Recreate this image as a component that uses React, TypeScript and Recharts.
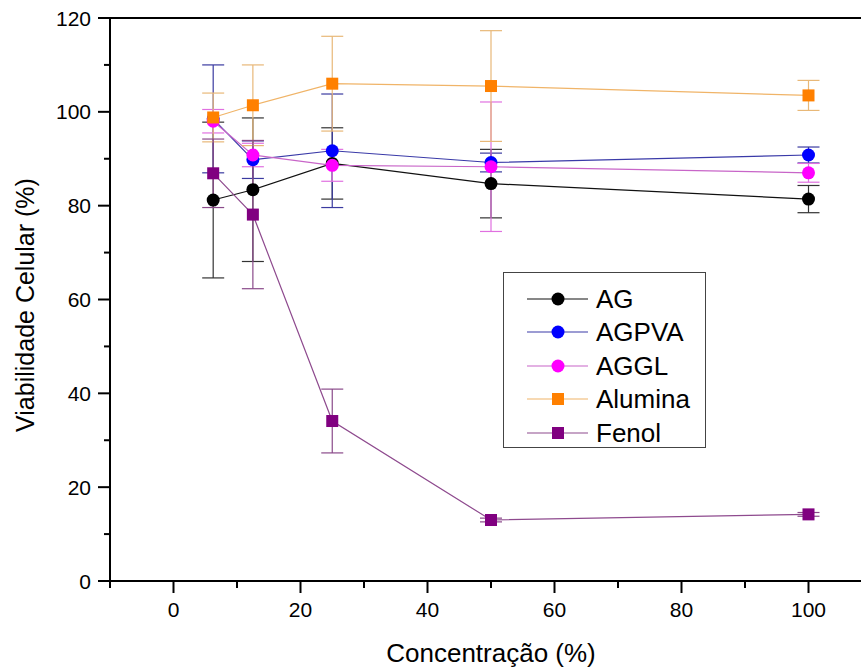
import {
  ErrorBar,
  Legend,
  Line,
  LineChart,
  ReferenceLine,
  XAxis,
  YAxis,
} from "recharts";

const FONT = '"Liberation Sans", Arial, sans-serif';

const conc = [6.25, 12.5, 25, 50, 100];

const ag = [81.2, 83.4, 89.0, 84.7, 81.4];
const agErr = [16.6, 15.3, 7.6, 7.3, 2.9];
const agpva = [98.5, 89.8, 91.7, 89.2, 90.8];
const agpvaErr = [11.5, 4.0, 12.1, 2.0, 1.7];
const aggl = [98.0, 90.8, 88.6, 88.3, 87.0];
const agglErr = [2.5, 2.5, 3.4, 13.8, 2.0];
const alumina = [98.8, 101.4, 106.0, 105.5, 103.5];
const aluminaErr = [5.2, 8.6, 10.1, 11.8, 3.2];
const fenol = [86.9, 78.1, 34.1, 13.0, 14.2];
const fenolErr = [7.3, 15.8, 6.8, 0.4, 0.4];

const xTicks = [-10, 0, 10, 20, 30, 40, 50, 60, 70, 80, 90, 100, 110];
const yTicks = [0, 10, 20, 30, 40, 50, 60, 70, 80, 90, 100, 110, 120];

const series = [
  { key: "AG", name: "AG", values: ag, errs: agErr, fill: "#000000", line: "#111111", err: "#333333", shape: "circle" },
  { key: "AGPVA", name: "AGPVA", values: agpva, errs: agpvaErr, fill: "#0000ff", line: "#3a3aa8", err: "#3a3aa0", shape: "circle" },
  { key: "AGGL", name: "AGGL", values: aggl, errs: agglErr, fill: "#ff00ff", line: "#c865c8", err: "#e070e0", shape: "circle" },
  { key: "Alumina", name: "Alumina", values: alumina, errs: aluminaErr, fill: "#ff8000", line: "#f0b468", err: "#e8b878", shape: "square" },
  { key: "Fenol", name: "Fenol", values: fenol, errs: fenolErr, fill: "#800080", line: "#8e4a8e", err: "#8a4a8a", shape: "square" },
];

const data = conc.map((c, i) => {
  const row: Record<string, number> = { conc: c };
  series.forEach((s) => {
    row[s.key] = s.values[i];
    row[s.key + "_err"] = s.errs[i];
  });
  return row;
});

const YTick = (props: any) => {
  const { x, y, payload } = props;
  const major = payload.value % 20 === 0;
  return (
    <g>
      <line x1={x} x2={x - (major ? 12 : 6)} y1={y} y2={y} stroke="#000" strokeWidth={2} />
      {major && (
        <text x={x - 19} y={y + 7.5} textAnchor="end" fontSize={21} fill="#000" fontFamily={FONT}>
          {payload.value}
        </text>
      )}
    </g>
  );
};

const XTick = (props: any) => {
  const { x, y, payload } = props;
  const major = payload.value % 20 === 0;
  return (
    <g>
      <line x1={x} x2={x} y1={y} y2={y + (major ? 12 : 7)} stroke="#000" strokeWidth={2} />
      {major && (
        <text x={x} y={y + 36} textAnchor="middle" fontSize={21} fill="#000" fontFamily={FONT}>
          {payload.value}
        </text>
      )}
    </g>
  );
};

const makeDot = (shape: string, fill: string) => (props: any) => {
  const { cx, cy, index } = props;
  if (cx == null || cy == null) return <g key={index} />;
  if (shape === "square") {
    return <rect key={index} x={cx - 6} y={cy - 6} width={12} height={12} fill={fill} />;
  }
  return <circle key={index} cx={cx} cy={cy} r={6.5} fill={fill} />;
};

function LegendBox() {
  return (
    <div
      style={{
        width: 203,
        height: 176,
        boxSizing: "border-box",
        border: "1.5px solid #444",
        background: "#fff",
        paddingTop: 9,
        fontFamily: FONT,
      }}
    >
      {series.map((s) => (
        <div key={s.key} style={{ height: 33.5, display: "flex", alignItems: "center" }}>
          <svg width={92} height={20} style={{ flex: "none" }}>
            <line x1={23} x2={84} y1={10} y2={10} stroke={s.line} strokeWidth={1.2} />
            {s.shape === "square" ? (
              <rect x={48} y={4} width={12} height={12} fill={s.fill} />
            ) : (
              <circle cx={54} cy={10} r={6.5} fill={s.fill} />
            )}
          </svg>
          <span style={{ fontSize: 26, color: "#000", lineHeight: 1 }}>{s.name}</span>
        </div>
      ))}
    </div>
  );
}

export default function App() {
  return (
    <div
      style={{
        position: "absolute",
        left: 0,
        top: 0,
        width: 861,
        height: 671,
        overflow: "hidden",
        background: "#fff",
        fontFamily: FONT,
      }}
    >
      <LineChart width={900} height={671} data={data} margin={{ top: 18, right: 28, bottom: 0, left: 0 }}>
        <XAxis
          type="number"
          dataKey="conc"
          domain={[-10, 110]}
          ticks={xTicks}
          interval={0}
          height={90}
          tickSize={0}
          tickMargin={0}
          tickLine={false}
          axisLine={{ stroke: "#000", strokeWidth: 2 }}
          tick={<XTick />}
          label={{
            content: (p: any) => (
              <text
                x={p.viewBox.x + p.viewBox.width / 2}
                y={p.viewBox.y + 81}
                textAnchor="middle"
                fontSize={26}
                fill="#000"
                fontFamily={FONT}
              >
                Concentração (%)
              </text>
            ),
          }}
        />
        <YAxis
          type="number"
          domain={[0, 120]}
          ticks={yTicks}
          interval={0}
          width={110}
          tickSize={0}
          tickMargin={0}
          tickLine={false}
          axisLine={{ stroke: "#000", strokeWidth: 2 }}
          tick={<YTick />}
          label={{
            content: () => (
              <text
                x={34}
                y={305}
                transform="rotate(-90 34 305)"
                textAnchor="middle"
                fontSize={25}
                fill="#000"
                fontFamily={FONT}
              >
                Viabilidade Celular (%)
              </text>
            ),
          }}
        />
        <ReferenceLine y={120} stroke="#000" strokeWidth={2} />
        {series.map((s) => (
          <Line
            key={s.key}
            dataKey={s.key}
            name={s.name}
            type="linear"
            stroke={s.line}
            strokeWidth={1.2}
            dot={makeDot(s.shape, s.fill)}
            activeDot={false}
            isAnimationActive={false}
          >
            <ErrorBar dataKey={s.key + "_err"} direction="y" width={11} stroke={s.err} strokeWidth={1.2} />
          </Line>
        ))}
        <Legend
          layout="horizontal"
          verticalAlign="middle"
          align="center"
          content={<LegendBox />}
          wrapperStyle={{ left: 503, top: 272, width: 203, height: 176 }}
        />
      </LineChart>
    </div>
  );
}
